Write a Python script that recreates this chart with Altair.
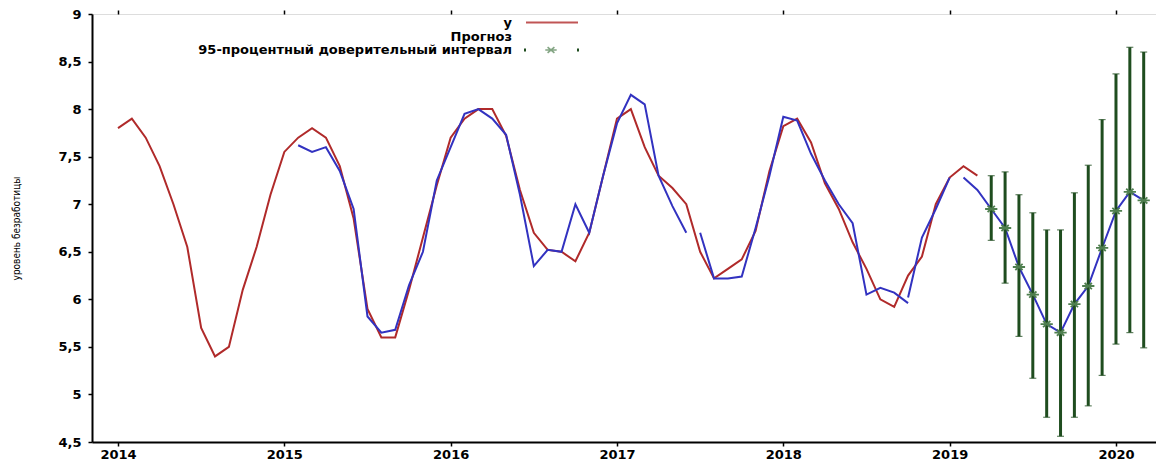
import altair as alt
import pandas as pd

# ---------------- data ----------------
years = [2014, 2015, 2016, 2017, 2018, 2019, 2020]
y_ticks = [4.5, 5, 5.5, 6, 6.5, 7, 7.5, 8, 8.5, 9]

# actual series "y": monthly, starting Jan 2014 (month index 0)
red_start = 0
red_values = [7.8, 7.9, 7.7, 7.4, 7.0, 6.55, 5.7, 5.4, 5.5, 6.1, 6.55, 7.1,
              7.55, 7.7, 7.8, 7.7, 7.4, 6.85, 5.9, 5.6, 5.6, 6.1, 6.65, 7.2,
              7.7, 7.9, 8.0, 8.0, 7.72, 7.15, 6.7, 6.52, 6.5, 6.4, 6.7, 7.3,
              7.9, 8.0, 7.6, 7.3, 7.17, 7.0, 6.5, 6.22, 6.32, 6.42, 6.72, 7.35,
              7.82, 7.9, 7.65, 7.22, 6.95, 6.6, 6.32, 6.0, 5.92, 6.25, 6.45, 7.0,
              7.28, 7.4, 7.3]

# forecast ("Прогноз"), drawn as separate segments
blue_a_start = 13
blue_a_values = [7.62, 7.55, 7.6, 7.35, 6.95, 5.82, 5.65, 5.68, 6.15, 6.5, 7.25,
                 7.6, 7.95, 8.0, 7.9, 7.73, 7.1, 6.35, 6.52, 6.5, 7.0, 6.7, 7.3,
                 7.85, 8.15, 8.05, 7.3, 6.98, 6.7]
blue_b_start = 42
blue_b_values = [6.7, 6.22, 6.22, 6.24, 6.75, 7.3, 7.92, 7.88, 7.53, 7.25, 7.0,
                 6.8, 6.05, 6.12, 6.07, 5.96]
blue_c_start = 57
blue_c_values = [6.02, 6.65, 6.95, 7.28]
blue_d_start = 61
blue_d_values = [7.28, 7.15, 6.95, 6.75, 6.34, 6.05, 5.74, 5.65, 5.95, 6.14,
                 6.54, 6.93, 7.13, 7.04]

# 95% confidence interval (out-of-sample forecast points)
ci_start = 63
ci_point = [6.95, 6.75, 6.34, 6.05, 5.74, 5.65, 5.95, 6.14, 6.54, 6.93, 7.13, 7.04]
ci_low = [6.62, 6.17, 5.61, 5.17, 4.76, 4.56, 4.76, 4.88, 5.20, 5.53, 5.65, 5.49]
ci_high = [7.30, 7.34, 7.10, 6.91, 6.73, 6.73, 7.12, 7.41, 7.89, 8.37, 8.65, 8.60]

legend_labels = ["y", "Прогноз", "95-процентный доверительный интервал"]
y_title = "уровень безработицы"

# ---------------- tables ----------------
def t_of(m):
    return 2014 + m / 12.0

red_df = pd.DataFrame({"t": [t_of(red_start + i) for i in range(len(red_values))],
                       "v": red_values})

rows = []
for seg, start, vals in [("a", blue_a_start, blue_a_values),
                         ("b", blue_b_start, blue_b_values),
                         ("c", blue_c_start, blue_c_values),
                         ("d", blue_d_start, blue_d_values)]:
    for i, v in enumerate(vals):
        rows.append({"t": t_of(start + i), "v": v, "seg": seg})
blue_df = pd.DataFrame(rows)

ci_df = pd.DataFrame({"t": [t_of(ci_start + i) for i in range(len(ci_point))],
                      "v": ci_point, "lo": ci_low, "hi": ci_high})

one = pd.DataFrame({"k": [0]})

# ---------------- styling ----------------
RED = "#b02a2a"
BLUE = "#3232c0"
GREEN = "#1f4d1f"
STAR = "#4f7f4f"
FONT = "DejaVu Sans"

W, H = 1064, 428
xscale = alt.Scale(domain=[2013.8437, 2013.8437 + W / 166.33], nice=False, zero=False)
yscale = alt.Scale(domain=[4.5, 9], nice=False, zero=False)

xaxis = alt.Axis(values=years, format="d", title=None, grid=False,
                 labelFont=FONT, labelFontWeight="bold", labelFontSize=13,
                 labelColor="black", labelPadding=2,
                 domainColor="black", domainWidth=2,
                 tickColor="black", tickSize=4, tickWidth=1.5)
yaxis = alt.Axis(values=y_ticks, title=y_title, grid=False,
                 labelExpr="replace(format(datum.value, '.1~f'), '.', ',')",
                 labelFont=FONT, labelFontWeight="bold", labelFontSize=13,
                 labelColor="black", labelPadding=7,
                 domainColor="black", domainWidth=2,
                 tickColor="black", tickSize=4, tickWidth=1.5,
                 titleFont="Liberation Sans Narrow, DejaVu Sans Condensed, DejaVu Sans",
                 titleFontSize=10, titleFontWeight="normal", titleColor="black",
                 titleAngle=270, titleX=-76, titleY=H / 2,
                 titleAlign="center", titleBaseline="middle")

X = alt.X("t:Q", scale=xscale, axis=None)
Y = alt.Y("v:Q", scale=yscale, axis=None)

red = alt.Chart(red_df).mark_line(color=RED, strokeWidth=2).encode(
    x=alt.X("t:Q", scale=xscale, axis=xaxis),
    y=alt.Y("v:Q", scale=yscale, axis=yaxis),
)

blue = alt.Chart(blue_df).mark_line(color=BLUE, strokeWidth=2).encode(
    x=X, y=Y, detail="seg:N")

bars = alt.Chart(ci_df).mark_rule(color=GREEN, strokeWidth=3).encode(
    x=X, y=alt.Y("lo:Q", scale=yscale, axis=None), y2="hi:Q")

caps_lo = alt.Chart(ci_df).mark_tick(color=GREEN, orient="horizontal",
                                     size=7, thickness=1.2).encode(
    x=X, y=alt.Y("lo:Q", scale=yscale, axis=None))
caps_hi = alt.Chart(ci_df).mark_tick(color=GREEN, orient="horizontal",
                                     size=7, thickness=1.2).encode(
    x=X, y=alt.Y("hi:Q", scale=yscale, axis=None))

STAR_PATH = "M-1,0L1,0M-0.6,-0.5L0.6,0.5M-0.6,0.5L0.6,-0.5"
stars = alt.Chart(ci_df).mark_point(shape=STAR_PATH, filled=False, color=STAR,
                                    strokeWidth=1.8, size=150, opacity=1).encode(
    x=X, y=Y)

# mirrored ticks on top and right (gnuplot style)
mirror = alt.Chart(red_df).mark_point(opacity=0).encode(
    x=alt.X("t:Q", scale=xscale,
            axis=alt.Axis(orient="top", values=years, labels=False, domain=False,
                          title=None, grid=False, tickColor="black", tickSize=4,
                          tickWidth=1.5)),
    y=alt.Y("v:Q", scale=yscale,
            axis=alt.Axis(orient="right", values=y_ticks, labels=False, domain=False,
                          title=None, grid=False, tickColor="black", tickSize=4,
                          tickWidth=1.5)),
)

# ---------------- legend (drawn by hand, top centre) ----------------
LX = 420  # right edge of legend text, px from plot left
leg_rows_y = [8.5, 22.5, 36]
leg_text = []
for lab, yy in zip(legend_labels, leg_rows_y):
    leg_text.append(alt.Chart(one).mark_text(
        align="right", baseline="middle", font=FONT, fontWeight="bold",
        fontSize=13, color="black").encode(
        x=alt.value(LX), y=alt.value(yy), text=alt.value(lab)))

leg_red = alt.Chart(one).mark_rule(color=RED, strokeWidth=2, opacity=0.8).encode(
    x=alt.value(LX + 14), x2=alt.value(LX + 66), y=alt.value(leg_rows_y[0]))
leg_dash1 = alt.Chart(one).mark_rule(color=GREEN, strokeWidth=2).encode(
    x=alt.value(LX + 13), y=alt.value(leg_rows_y[2] - 1.5), y2=alt.value(leg_rows_y[2] + 1.5))
leg_dash2 = alt.Chart(one).mark_rule(color=GREEN, strokeWidth=2).encode(
    x=alt.value(LX + 66), y=alt.value(leg_rows_y[2] - 1.5), y2=alt.value(leg_rows_y[2] + 1.5))
leg_star = alt.Chart(one).mark_point(shape=STAR_PATH, filled=False, color=STAR,
                                     strokeWidth=1.6, size=130).encode(
    x=alt.value(LX + 39), y=alt.value(leg_rows_y[2]))

chart = alt.layer(
    red, blue, bars, caps_lo, caps_hi, stars, mirror,
    *leg_text, leg_red, leg_dash1, leg_dash2, leg_star,
).resolve_axis(
    x="independent", y="independent"
).properties(
    width=W, height=H,
    autosize=alt.AutoSizeParams(type="none"),
    padding={"left": 84, "top": 6, "right": 0, "bottom": 20},
).configure_view(stroke=None).configure(background="white")

chart.save("out.html", embed_options={"renderer": "svg", "actions": False})
